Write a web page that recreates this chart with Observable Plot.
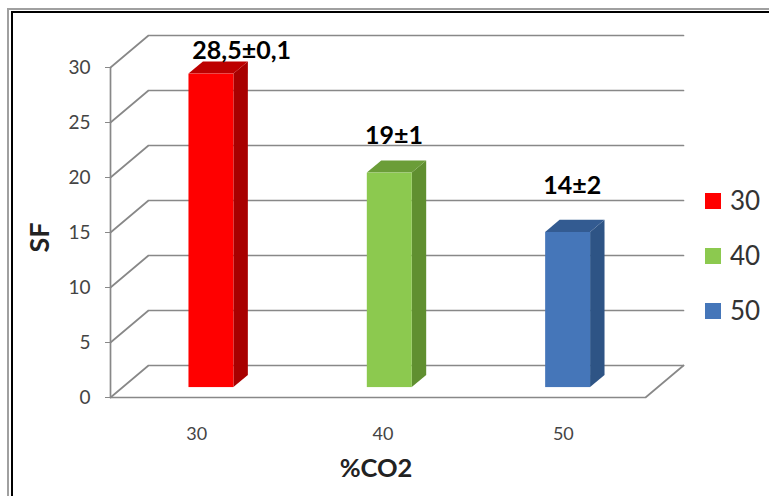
<!DOCTYPE html>
<html><head><meta charset="utf-8">
<script src="https://cdn.jsdelivr.net/npm/d3@7"></script>
<script src="https://cdn.jsdelivr.net/npm/@observablehq/plot@0.6"></script>
<style>
html,body{margin:0;padding:0;background:#fff;overflow:hidden}
#wrap{position:relative;width:769px;height:496px;font-family:Lato,sans-serif}
#frame{position:absolute;left:7px;top:8px;width:770px;height:500px;border:2px solid #a0a0a0;box-sizing:border-box}
#frame2{position:absolute;left:11px;top:11px;width:770px;height:500px;border:2.5px solid #000;box-sizing:border-box}
#legend{position:absolute;left:705px;top:173px;color:#333;font-size:26px;line-height:55px}
#legend div{display:flex;align-items:center;height:55px}
#legend i{display:inline-block;width:16px;height:16px;margin-right:9px}
svg{position:absolute;left:0;top:0}
</style></head><body>
<div id="wrap"><div id="frame"></div><div id="frame2"></div><div id="chart"></div><div id="legend"></div></div>
<script>
const co2 = [30, 40, 50];
const sf = [28.5, 19.5, 14.1];
const labels = ["28,5±0,1", "19±1", "14±2"];
const yTicks = [0, 5, 10, 15, 20, 25, 30];

const frontColors = ["#ff0000", "#8cc94f", "#4576b9"];
const sideColors = ["#a80000", "#608f30", "#2e5485"];
const topColors = ["#bd0000", "#6b9d38", "#335b91"];
const labelDx = [42, 16, 16];
const labelDy = [-33, -47, -56];
const tickDx = [-3, 5, 7];

const x0 = 25, x1 = 55, skewX = 2.13, skewY = 2.91;
const barW = 2.52, depthFront = 0.31, depthBack = 0.69;
const px = (x, d) => x + d * skewX, py = (y, d) => y + d * skewY;

const grid = yTicks.map(v => [[x0, v], [px(x0, 1), py(v, 1)], [px(x1, 1), py(v, 1)]]);
const floor = [[x0, 0], [x1, 0], [px(x1, 1), py(0, 1)]];
const lineColor = "#888888", lineWidth = 1.7;

const marks = [];
grid.forEach(g => marks.push(Plot.line(g, {x: d => d[0], y: d => d[1], stroke: lineColor, strokeWidth: lineWidth})));
marks.push(Plot.line(floor, {x: d => d[0], y: d => d[1], stroke: lineColor, strokeWidth: lineWidth}));
marks.push(Plot.ruleX([x0], {y1: 0, y2: 30, stroke: lineColor, strokeWidth: lineWidth}));

co2.forEach((c, i) => {
  const v = sf[i];
  const L = c - barW / 2, R = c + barW / 2;
  marks.push(Plot.area([depthFront, depthBack], {
    x1: d => px(R, d), x2: d => px(R, d),
    y1: d => py(0, d), y2: d => py(v, d), fill: sideColors[i]}));
  marks.push(Plot.area([depthFront, depthBack], {
    x1: d => px(L, d), x2: d => px(R, d),
    y1: d => py(v, d), y2: d => py(v, d), fill: topColors[i]}));
  marks.push(Plot.rect([v], {
    x1: px(L, depthFront), x2: px(R, depthFront),
    y1: py(0, depthFront), y2: d => py(d, depthFront), fill: frontColors[i], inset: 0}));
  marks.push(Plot.text([labels[i]], {
    x: () => c, y: () => v, text: d => d, dx: labelDx[i], dy: labelDy[i],
    fontSize: 25, fontWeight: 700, fill: "#000"}));
  marks.push(Plot.text([c], {
    x: d => d, text: d => String(d), frameAnchor: "bottom", dx: tickDx[i], dy: 37,
    fontSize: 18, fill: "#444", lineAnchor: "middle"}));
});

marks.push(Plot.axisY({ticks: yTicks, tickSize: 5, tickPadding: 15, fontSize: 19, color: "#444", stroke: lineColor, label: null}));
marks.push(Plot.text(["SF"], {frameAnchor: "left", rotate: -90, dx: -70, dy: 36, fontSize: 27, fontWeight: 700, fill: "#222"}));
marks.push(Plot.text(["%CO2"], {frameAnchor: "bottom", dx: -21, dy: 79, fontSize: 25.5, fontWeight: 700, fill: "#222"}));

const chart = Plot.plot({
  width: 769, height: 496,
  marginLeft: 110, marginRight: 86, marginTop: 35, marginBottom: 99,
  x: {domain: [x0, px(x1, 1)], axis: null},
  y: {domain: [0, py(30, 1)], axis: null},
  style: {background: "transparent", fontFamily: "Lato, sans-serif"},
  marks
});
document.getElementById("chart").append(chart);
document.getElementById("legend").innerHTML = co2.map((c, i) =>
  `<div><i style="background:${frontColors[i]}"></i>${c}</div>`).join("");
</script>
</body></html>
